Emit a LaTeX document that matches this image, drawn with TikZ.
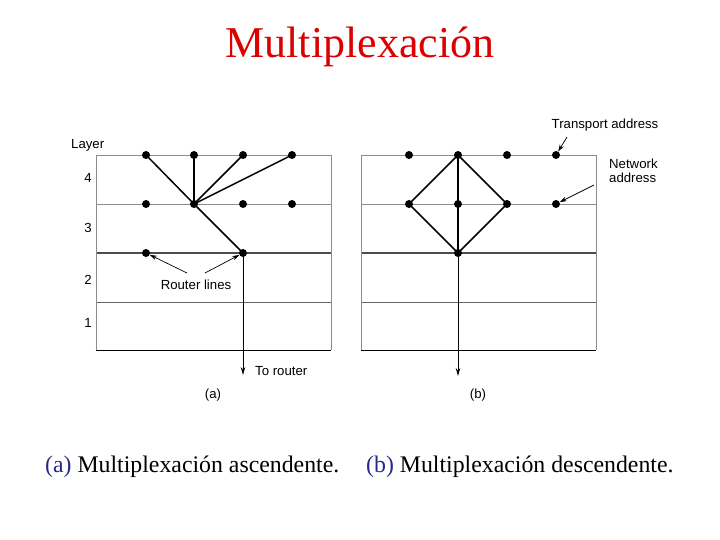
\documentclass[tikz,border=0pt]{standalone}
\usepackage{fontspec}
\setmainfont{Liberation Serif}
\setsansfont{Liberation Sans}
\usetikzlibrary{arrows.meta}
\definecolor{titlered}{RGB}{220,0,0}
\definecolor{capblue}{RGB}{40,40,140}
\begin{document}
\begin{tikzpicture}[x=1pt,y=-1pt,
  dot/.style={circle,fill=black,inner sep=0pt,minimum size=8pt},
  thinline/.style={draw=black!45,line width=0.7pt},
  midline/.style={draw=black!60,line width=0.9pt},
  routerline/.style={draw=black!70,line width=1.5pt},
  baseline/.style={draw=black,line width=1pt},
  link/.style={draw=black,line width=1.5pt},
  downarrow/.style={draw=black,line width=1pt,-{Stealth[length=8pt,width=4.5pt]}},
  callout/.style={draw=black,line width=0.7pt,-{Stealth[length=7pt,width=4.5pt]}},
  lbl/.style={font=\sffamily\fontsize{13.2}{15}\selectfont,inner sep=0pt},
]
\useasboundingbox (0,0) rectangle (720,540);
\fill[white] (0,0) rectangle (720,540);

% title
\node[font=\fontsize{44}{48}\selectfont,text=titlered,inner sep=0pt] (title) at (360,47) {Multiplexación};

% ---------- panel (a) ----------
\foreach \yy/\st in {155/thinline,204/thinline,302/midline}{
  \draw[\st] (96,\yy) -- (331,\yy);
}
\draw[routerline] (96,253) -- (331,253);
\draw[thinline] (96,155) -- (96,350);
\draw[thinline] (331,155) -- (331,350);
\draw[baseline] (95.7,350) -- (331.3,350);

\node[dot] (a41) at (146,155) {};
\node[dot] (a42) at (194,155) {};
\node[dot] (a43) at (243,155) {};
\node[dot] (a44) at (292,155) {};
\node[dot] (a31) at (146,204) {};
\node[dot] (a32) at (194,204) {};
\node[dot] (a33) at (243,204) {};
\node[dot] (a34) at (292,204) {};
\node[dot] (a21) at (146,253) {};
\node[dot] (a22) at (243,253) {};
\coordinate (aend) at (243,375);

\draw[link] (a41.center) -- (a32.center);
\draw[link] (a42.center) -- (a32.center);
\draw[link] (a43.center) -- (a32.center);
\draw[link] (a44.center) -- (a32.center);
\draw[link] (a32.center) -- (a22.center);
\draw[downarrow] (a22.center) -- (aend);

\node[lbl,anchor=west] (layer) at (71,145) {Layer};
\node[lbl] (l4) at (88,178) {4};
\node[lbl] (l3) at (88,228) {3};
\node[lbl] (l2) at (88,280) {2};
\node[lbl] (l1) at (88,323) {1};

\node[lbl] (router) at (196,284.5) {Router lines};
\coordinate (rl1) at (187,273);
\coordinate (rl2) at (205,273);
\draw[callout] (rl1) -- (a21);
\draw[callout] (rl2) -- (a22);

\node[lbl,anchor=west] (torouter) at (255,371) {To router};
\node[lbl] (capa) at (213,395) {(a)};

% ---------- panel (b) ----------
\foreach \yy/\st in {155/thinline,204/thinline,302/midline}{
  \draw[\st] (361,\yy) -- (596,\yy);
}
\draw[routerline] (361,253) -- (596,253);
\draw[thinline] (361,155) -- (361,350);
\draw[thinline] (596,155) -- (596,350);
\draw[baseline] (360.7,350) -- (596.3,350);

\node[dot] (b41) at (409,155) {};
\node[dot] (b42) at (458,155) {};
\node[dot] (b43) at (507,155) {};
\node[dot] (b44) at (556,155) {};
\node[dot] (b31) at (409,204) {};
\node[dot] (b32) at (458,204) {};
\node[dot] (b33) at (507,204) {};
\node[dot] (b34) at (556,204) {};
\node[dot] (b21) at (458,253) {};
\coordinate (bend) at (458,376);

\draw[link] (b42.center) -- (b31.center) -- (b21.center) -- (b33.center) -- cycle;
\draw[link] (b42.center) -- (b21.center);
\draw[downarrow] (b21.center) -- (bend);

\node[lbl] (transport) at (605,125) {Transport address};
\coordinate (tr) at (567,137);
\draw[callout] (tr) -- (b44);
\node[lbl,anchor=north west,align=left] (network) at (609,158.5) {Network\\[-1pt]address};
\coordinate (nw) at (594,185);
\draw[callout] (nw) -- (b34);
\node[lbl] (capb) at (478,395) {(b)};

% ---------- caption ----------
\node[font=\fontsize{23.8}{26}\selectfont,anchor=west,inner sep=0pt] (capta) at (45,467) {\textcolor{capblue}{(a)} Multiplexación ascendente.};
\node[font=\fontsize{23.8}{26}\selectfont,anchor=west,inner sep=0pt] (captb) at (366,467) {\textcolor{capblue}{(b)} Multiplexación descendente.};
\end{tikzpicture}
\end{document}
